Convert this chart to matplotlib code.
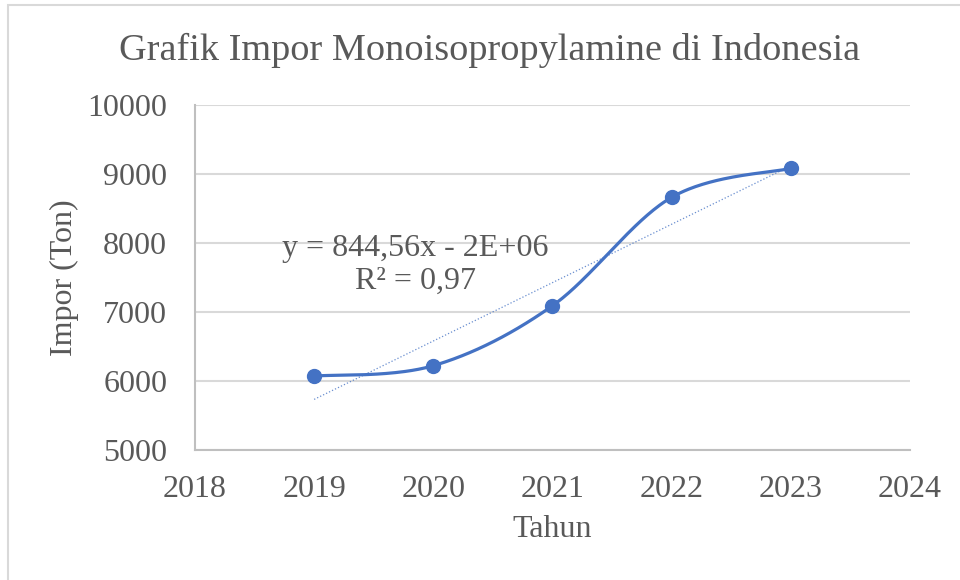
import numpy as np
import matplotlib.pyplot as plt
from matplotlib.patches import Rectangle

# Impor Monoisopropylamine (Ton) per tahun
tahun = [2019, 2020, 2021, 2022, 2023]
impor = [6072, 6222, 7091, 8662, 9082]
xticks = [2018, 2019, 2020, 2021, 2022, 2023, 2024]
yticks = [5000, 6000, 7000, 8000, 9000, 10000]

blue = "#4472C4"
grey_txt = "#595959"
plt.rcParams['font.family'] = ['Liberation Serif', 'DejaVu Serif']


def smooth_line(x, y, n=60):
    # kurve ala excel (catmull-rom als bezier)
    x = np.asarray(x, float)
    y = np.asarray(y, float)
    px = np.concatenate([[x[0]], x, [x[-1]]])
    py = np.concatenate([[y[0]], y, [y[-1]]])
    xs, ys = [], []
    t = np.linspace(0, 1, n)
    for i in range(1, len(px) - 2):
        p0 = np.array([px[i], py[i]])
        p3 = np.array([px[i + 1], py[i + 1]])
        c1 = p0 + (np.array([px[i + 1], py[i + 1]]) - np.array([px[i - 1], py[i - 1]])) / 6
        c2 = p3 - (np.array([px[i + 2], py[i + 2]]) - np.array([px[i], py[i]])) / 6
        b = ((1 - t) ** 3)[:, None] * p0 + (3 * (1 - t) ** 2 * t)[:, None] * c1 \
            + (3 * (1 - t) * t ** 2)[:, None] * c2 + (t ** 3)[:, None] * p3
        xs.extend(b[:, 0])
        ys.extend(b[:, 1])
    return np.array(xs), np.array(ys)


fig = plt.figure(figsize=(9.6, 5.8), dpi=100)
ax = fig.add_axes([0.2031, 0.2241, 0.7448, 0.5949])

# rahmen vom diagramm
fig.patches.append(Rectangle((8 / 960, -0.05), 1.0, 0.05 + 1 - 5 / 580, transform=fig.transFigure,
                             fill=False, edgecolor="#d9d9d9", linewidth=1.5, zorder=0))

sx, sy = smooth_line(tahun, impor)
ax.plot(sx, sy, color=blue, linewidth=2.3, zorder=3)
ax.plot(tahun, impor, 'o', color=blue, markersize=10, zorder=4)

# lineare trendlinie
m, c = np.polyfit(tahun, impor, 1)
tx = np.array([tahun[0], tahun[-1]])
ax.plot(tx, m * tx + c, linestyle=':', color=blue, linewidth=0.9, alpha=0.8, zorder=2)

ax.text(2019.85, 7681, "y = 844,56x - 2E+06\nR² = 0,97", ha='center', va='center',
        fontsize=23, color=grey_txt, linespacing=1.15, zorder=5)

ax.set_xlim(2018, 2024)
ax.set_ylim(5000, 10000)
ax.set_xticks(xticks)
ax.set_yticks(yticks)
ax.grid(axis='y', color="#d9d9d9", linewidth=1.5)
ax.set_axisbelow(True)
for s in ['top', 'right']:
    ax.spines[s].set_visible(False)
for s in ['left', 'bottom']:
    ax.spines[s].set_color("#bfbfbf")
    ax.spines[s].set_linewidth(1.5)
ax.tick_params(length=0, labelsize=23, colors=grey_txt)
ax.tick_params(axis='x', pad=18)
ax.tick_params(axis='y', pad=20)

ax.set_xlabel("Tahun", fontsize=23, color=grey_txt, labelpad=8)
ax.set_ylabel("Impor (Ton)", fontsize=23, color=grey_txt, labelpad=6)
fig.text(0.51, 1 - 50 / 580, "Grafik Impor Monoisopropylamine di Indonesia", ha='center', va='center',
         fontsize=27.5, color=grey_txt)

fig.savefig("out.png", dpi=100)
